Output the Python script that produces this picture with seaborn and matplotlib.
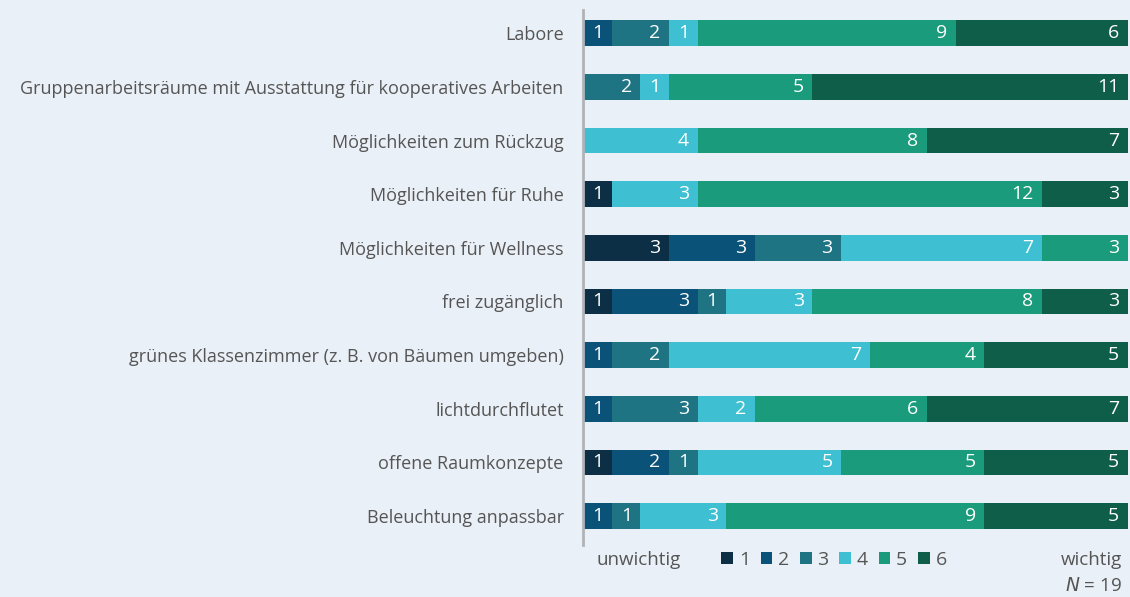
import pandas as pd
import matplotlib.pyplot as plt
import seaborn as sns
import numpy as np
from matplotlib.patches import Patch

# Bewertung der Raumeigenschaften (1 = unwichtig ... 6 = wichtig), N = 19
items = [
    "Labore",
    "Gruppenarbeitsräume mit Ausstattung für kooperatives Arbeiten",
    "Möglichkeiten zum Rückzug",
    "Möglichkeiten für Ruhe",
    "Möglichkeiten für Wellness",
    "frei zugänglich",
    "grünes Klassenzimmer (z. B. von Bäumen umgeben)",
    "lichtdurchflutet",
    "offene Raumkonzepte",
    "Beleuchtung anpassbar",
]
levels = ["1", "2", "3", "4", "5", "6"]
r1 = [0, 0, 0, 1, 3, 1, 0, 0, 1, 0]
r2 = [1, 0, 0, 0, 3, 3, 1, 1, 2, 1]
r3 = [2, 2, 0, 0, 3, 1, 2, 3, 1, 1]
r4 = [1, 1, 4, 3, 7, 3, 7, 2, 5, 3]
r5 = [9, 5, 8, 12, 3, 8, 4, 6, 5, 9]
r6 = [6, 11, 7, 3, 0, 3, 5, 7, 5, 5]

colors = ['#0d2f45', '#0b5279', '#1f7483', '#3ec0d2', '#1a9b7b', '#0f5e4a']
bg = '#eaf0f7'
txt = '#555555'

counts = np.array([r1, r2, r3, r4, r5, r6])
cum = counts.cumsum(axis=0)

plt.rcParams['font.family'] = ['Open Sans', 'DejaVu Sans']
fig = plt.figure(figsize=(11.3, 5.97), dpi=100, facecolor=bg)
ax = fig.add_axes([0.516, 0.087, 0.482, 0.896])
ax.set_facecolor(bg)

# stacked bars: draw cumulative totals from the top level down
for k in range(5, -1, -1):
    df = pd.DataFrame({'item': items, 'cum': cum[k]})
    sns.barplot(data=df, x='cum', y='item', orient='h', color=colors[k],
                width=0.48, saturation=1, ax=ax)

for k in range(6):
    for i in range(len(items)):
        v = counts[k][i]
        if v > 0:
            ax.text(cum[k][i] - 0.3, i, str(v), ha='right', va='center',
                    color='white', fontsize=14)

ax.set_xlim(0, 19)
ax.set_ylim(9.54, -0.43)
ax.set_xlabel('')
ax.set_ylabel('')
ax.set_xticks([])
ax.tick_params(axis='y', length=0, labelsize=13, labelcolor=txt, pad=14)
for s in ['top', 'right', 'bottom']:
    ax.spines[s].set_visible(False)
ax.spines['left'].set_color('#b0b4b8')
ax.spines['left'].set_linewidth(2)

handles = [Patch(facecolor=c, label=l) for c, l in zip(colors, levels)]
fig.legend(handles=handles, loc='center', bbox_to_anchor=(0.738, 0.062),
           ncol=6, frameon=False, fontsize=14, labelcolor=txt,
           handlelength=0.6, handleheight=0.6, handletextpad=0.3,
           columnspacing=0.55)
fig.text(0.528, 0.062, 'unwichtig', ha='left', va='center', fontsize=13.5, color=txt)
fig.text(0.993, 0.062, 'wichtig', ha='right', va='center', fontsize=13.5, color=txt)
fig.text(0.993, 0.018, '$\\mathit{N}$ = 19', ha='right', va='center', fontsize=13.5, color=txt)

fig.savefig('out.png', dpi=100, facecolor=bg)
